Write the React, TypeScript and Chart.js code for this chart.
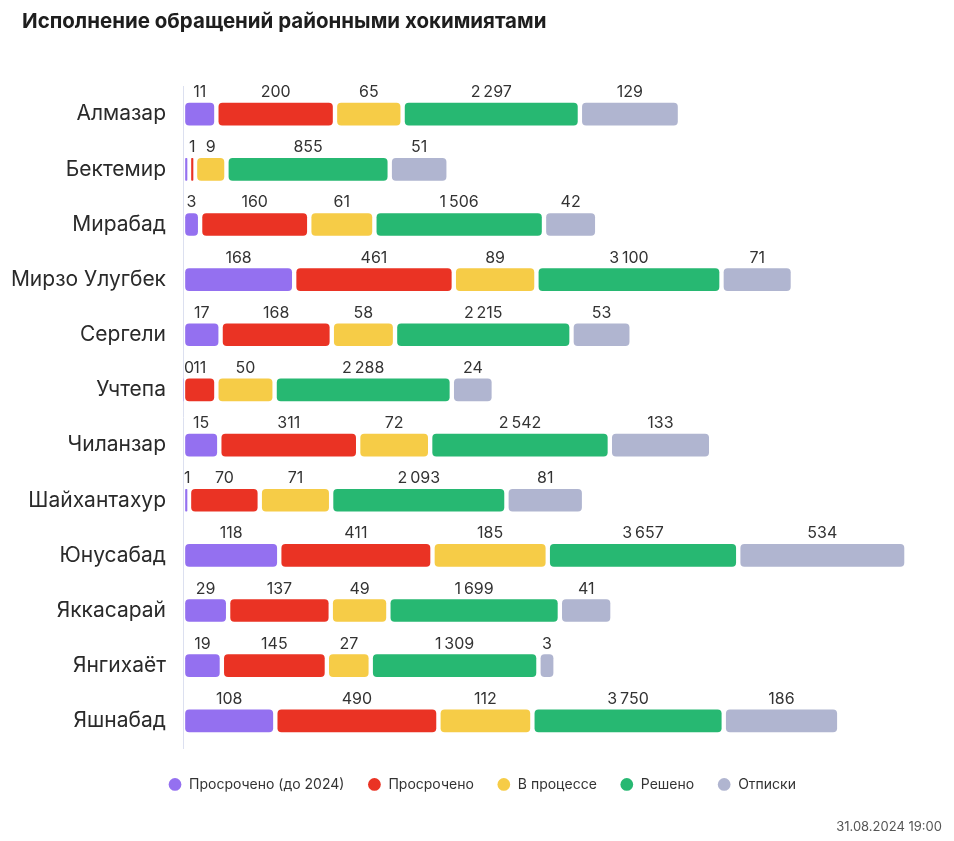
import { useEffect, useRef } from 'react';
import { Chart, registerables } from 'chart.js';

Chart.register(...registerables);

const chartTitle = 'Исполнение обращений районными хокимиятами';
const updatedAt = '31.08.2024 19:00';

const districts = [
  'Алмазар', 'Бектемир', 'Мирабад', 'Мирзо Улугбек', 'Сергели', 'Учтепа',
  'Чиланзар', 'Шайхантахур', 'Юнусабад', 'Яккасарай', 'Янгихаёт', 'Яшнабад',
];

const overdueBefore2024 = [11, 1, 3, 168, 17, 0, 15, 1, 118, 29, 19, 108];
const overdue = [200, 1, 160, 461, 168, 11, 311, 70, 411, 137, 145, 490];
const inProgress = [65, 9, 61, 89, 58, 50, 72, 71, 185, 49, 27, 112];
const resolved = [2297, 855, 1506, 3100, 2215, 2288, 2542, 2093, 3657, 1699, 1309, 3750];
const formalReplies = [129, 51, 42, 71, 53, 24, 133, 81, 534, 41, 3, 186];

const seriesNames = ['Просрочено (до 2024)', 'Просрочено', 'В процессе', 'Решено', 'Отписки'];
const seriesValues = [overdueBefore2024, overdue, inProgress, resolved, formalReplies];
const seriesColors = ['#9470F0', '#EA3324', '#F6CC47', '#27B872', '#B0B5D0'];

const FONT = "Inter, 'Noto Sans', sans-serif";
const AXIS_MAX = 759;
const GAP = 5;

// Compressed segment-length scale of the original chart (value -> axis units);
// the "Решено" series uses its own, flatter scale.
const segmentLength = (v: number, series: number) => {
  if (v <= 0) return 0;
  if (series === 3) return 155 + 0.0097 * v;
  const base = 27 * (1 - Math.exp(-Math.pow(v / 3.5, 1.2)));
  const body = v <= 90 ? 0.625 * v : 56.25 + 18.75 * (Math.sqrt(1 + (v - 90) / 15) - 1);
  return base + body;
};

const fmt = (v: number) => {
  const s = String(v);
  return s.length > 3 ? s.slice(0, s.length - 3) + '\u2009' + s.slice(s.length - 3) : s;
};

const buildFloating = () => {
  const out: number[][][] = seriesValues.map(() => []);
  districts.forEach((_, i) => {
    let cum = 0;
    seriesValues.forEach((vals, k) => {
      const len = segmentLength(vals[i], k);
      if (len <= 0) {
        out[k].push([cum, cum]);
      } else {
        const start = cum + GAP / 2;
        const end = Math.max(cum + len - GAP / 2, start + 1.5);
        out[k].push([start, end]);
      }
      cum += len;
    });
  });
  return out;
};

const valueLabels = {
  id: 'valueLabels',
  afterDatasetsDraw(chart: any) {
    const ctx = chart.ctx;
    ctx.save();
    ctx.font = `16px ${FONT}`;
    ctx.fillStyle = '#333333';
    ctx.textAlign = 'center';
    ctx.textBaseline = 'alphabetic';
    const n = chart.data.labels.length;
    for (let i = 0; i < n; i++) {
      const placed: { l: number; r: number }[] = [];
      for (let d = chart.data.datasets.length - 1; d >= 0; d--) {
        const el = chart.getDatasetMeta(d).data[i];
        if (!el) continue;
        const text = fmt(seriesValues[d][i]);
        const w = ctx.measureText(text).width;
        const cx = (el.x + el.base) / 2;
        let left = cx - w / 2;
        if (left < chart.chartArea.left + 1) left = chart.chartArea.left + 1;
        const right = left + w;
        if (placed.some((p) => Math.min(right, p.r) - Math.max(left, p.l) > 1)) continue;
        placed.push({ l: left, r: right });
        ctx.fillText(text, left + w / 2, el.y - el.height / 2 - 6);
      }
    }
    ctx.restore();
  },
};

// let the category labels use the space left of the layout padding (no clipping at the padding)
const unclipLabels = {
  id: 'unclipLabels',
  afterLayout(chart: any) {
    const y = chart.scales.y;
    if (y) y.left = 0;
  },
};

export default function App() {
  const ref = useRef<HTMLCanvasElement | null>(null);

  useEffect(() => {
    document.body.style.margin = '0';
    const canvas = ref.current;
    if (!canvas) return;
    const floating = buildFloating();
    const chart = new Chart(canvas, {
      type: 'bar',
      data: {
        labels: districts,
        datasets: seriesNames.map((name, k) => ({
          label: name,
          data: floating[k] as any,
          backgroundColor: seriesColors[k],
          borderWidth: 0,
          borderRadius: 4,
          borderSkipped: false,
          barThickness: 22,
          grouped: false,
        })),
      },
      options: {
        indexAxis: 'y',
        animation: false,
        responsive: false,
        devicePixelRatio: 1,
        layout: { padding: { left: 22, right: 12, top: 0, bottom: 0 } },
        scales: {
          x: {
            type: 'linear',
            min: 0,
            max: AXIS_MAX,
            display: true,
            grid: { display: false, drawTicks: false },
            border: { display: false },
            ticks: { display: false },
            afterFit: (s: any) => {
              s.height = 6;
            },
          },
          y: {
            type: 'category',
            grid: { display: false, drawTicks: false },
            border: { display: true, color: '#DCE0F0', width: 1 },
            ticks: {
              color: '#2A2A2A',
              font: { family: FONT, size: 21 },
              padding: 17,
            },
            afterFit: (s: any) => {
              s.width = 161;
            },
          },
        },
        plugins: {
          title: {
            display: true,
            text: chartTitle,
            align: 'start',
            color: '#1E1E1E',
            font: { family: FONT, size: 20.5, weight: 'bold' },
            padding: { top: 10, bottom: 52 },
          },
          subtitle: {
            display: true,
            text: updatedAt,
            position: 'bottom',
            align: 'end',
            color: '#555555',
            font: { family: FONT, size: 13 },
            padding: { top: 18, bottom: 6 },
          },
          legend: {
            display: true,
            position: 'bottom',
            labels: {
              usePointStyle: true,
              pointStyle: 'circle',
              boxWidth: 14,
              boxHeight: 9,
              padding: 23,
              color: '#333333',
              font: { family: FONT, size: 14 },
            },
          },
          tooltip: { enabled: false },
        },
      },
      plugins: [valueLabels, unclipLabels],
    } as any);
    return () => chart.destroy();
  }, []);

  return <canvas ref={ref} width={954} height={841} style={{ display: 'block' }} />;
}
